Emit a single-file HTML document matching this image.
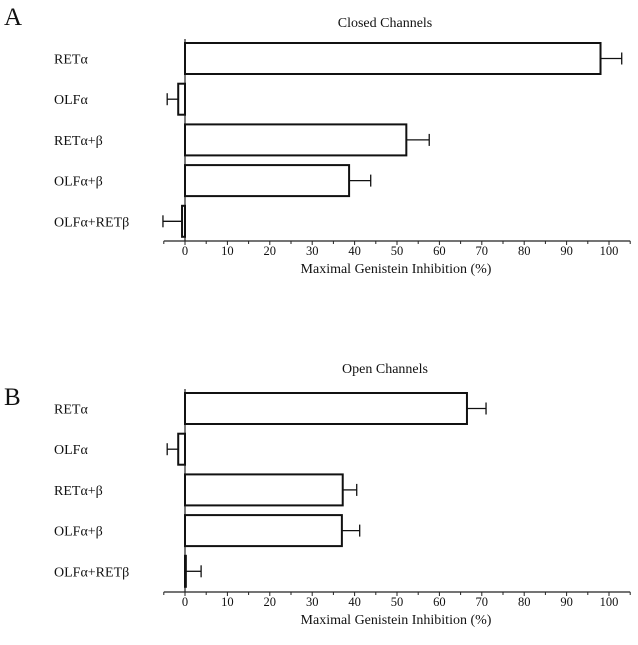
<!DOCTYPE html>
<html><head><meta charset="utf-8"><style>
html,body{margin:0;padding:0;background:#fff;}
svg text{font-family:"Liberation Serif",serif;fill:#111;}
</style></head><body>
<svg id="chart" width="638" height="640" viewBox="0 0 638 640" xmlns="http://www.w3.org/2000/svg"></svg>
<script>
const categories = ["RETα","OLFα","RETα+β","OLFα+β","OLFα+RETβ"];
const closedValues = [98, -1.6, 52.2, 38.7, -0.7];
const closedErrors = [5, -2.6, 5.4, 5.1, -4.5];
const openValues = [66.5, -1.6, 37.2, 37.0, 0.2];
const openErrors = [4.5, -2.6, 3.3, 4.2, 3.6];
const tickValues = [0,10,20,30,40,50,60,70,80,90,100];
const tickLabels = ["0","10","20","30","40","50","60","70","80","90","100"];

const svg = document.getElementById('chart');
const NS = 'http://www.w3.org/2000/svg';
function mk(tag, attrs, parent){
  const e = document.createElementNS(NS, tag);
  for (const k in attrs) e.setAttribute(k, attrs[k]);
  (parent||svg).appendChild(e);
  return e;
}
const x = v => 185 + v * 4.24;

function panel(letter, letterY, title, titleY, top, axisY, values, errors, key){
  const g = mk('g', {});
  
  
  let t = mk('text', {x:4, y:letterY, 'font-size':25}, g);
  t.textContent = letter;
  
  
  t = mk('text', {x:385, y:titleY, 'font-size':14, 'text-anchor':'middle'}, g);
  t.textContent = title;
  
  
  let l = mk('line', {x1:x(0), y1:top-4, x2:x(0), y2:axisY, stroke:'#222', 'stroke-width':1.2}, g);
  
  
  const step = 40.7, bh = 31;
  categories.forEach((c, i) => {
    const y0 = top + i * step;
    const cy = y0 + bh/2;
    let lab = mk('text', {x:54, y:cy+5, 'font-size':14}, g);
    lab.textContent = c;
    
    
    const v = values[i], e = errors[i];
    const xa = Math.min(x(0), x(v)), w = Math.abs(x(v) - x(0));
    const b = mk('rect', {x:xa, y:y0, width:Math.max(w,0.5), height:bh, fill:'#fff', stroke:'#111', 'stroke-width':2}, g);
    
    
    const xe = x(v + e);
    const el = mk('line', {x1:x(v), y1:cy, x2:xe, y2:cy, stroke:'#111', 'stroke-width':1.3}, g);
    
    
    const cap = mk('line', {x1:xe, y1:cy-6, x2:xe, y2:cy+6, stroke:'#111', 'stroke-width':1.3}, g);
    
    
  });
  l = mk('line', {x1:x(-5), y1:axisY, x2:x(105), y2:axisY, stroke:'#222', 'stroke-width':1.2}, g);
  
  
  for (let v = -5; v <= 105; v += 5){
    const major = v % 10 === 0;
    const tk = mk('line', {x1:x(v), y1:axisY, x2:x(v), y2:axisY + (major?4:3), stroke:'#222', 'stroke-width':1}, g);
    
    
  }
  tickValues.forEach((v, i) => {
    const tl = mk('text', {x:x(v), y:axisY + 14, 'font-size':12.5, 'text-anchor':'middle'}, g);
    tl.textContent = tickLabels[i];
    
    
  });
  t = mk('text', {x:396, y:axisY + 32, 'font-size':14, 'text-anchor':'middle'}, g);
  t.textContent = 'Maximal Genistein Inhibition (%)';
  
  
}
panel('A', 25, 'Closed Channels', 27, 43, 241, closedValues, closedErrors, 'closed');
panel('B', 405, 'Open Channels', 373, 393, 592, openValues, openErrors, 'open');
</script>
</body></html>
